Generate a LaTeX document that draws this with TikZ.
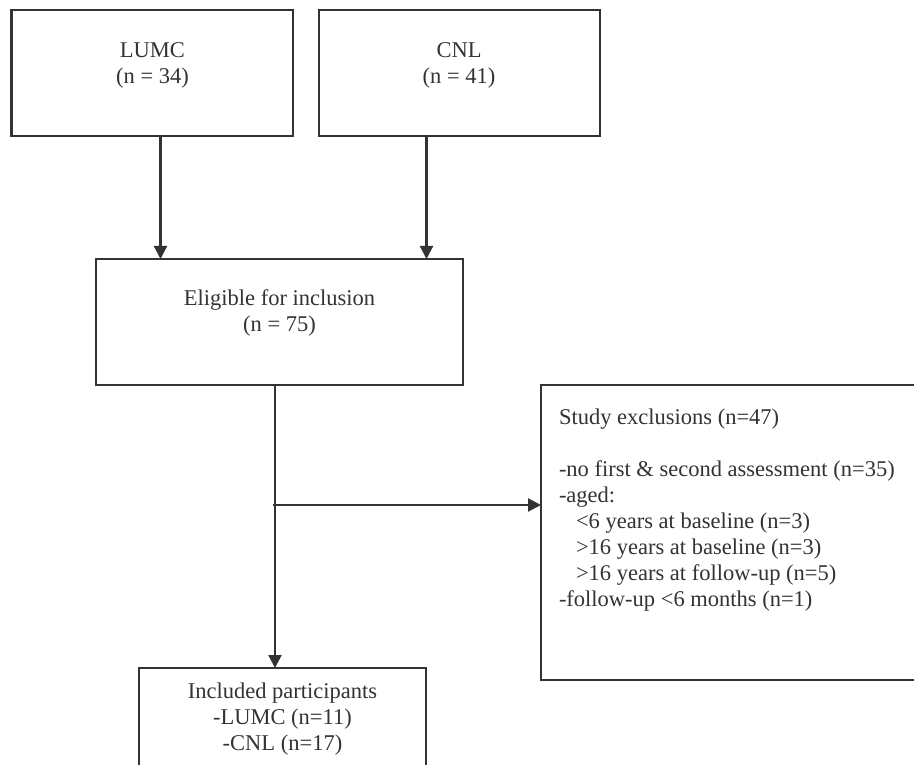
\documentclass[tikz,border=0pt]{standalone}
\usepackage{fontspec}
\setmainfont{Liberation Serif}
\usetikzlibrary{arrows.meta}
\definecolor{ink}{HTML}{333333}
\newcommand{\topstrut}{\rule{0pt}{18pt}}
\begin{document}
\begin{tikzpicture}[x=1pt,y=-1pt,
  boxnode/.style={draw=ink, line width=2.6pt, rectangle, inner sep=0pt, outer sep=0pt},
  txt/.style={text=ink, inner sep=0pt, outer sep=0pt, font=\fontsize{22.5}{26}\selectfont},
  arr/.style={draw=ink, line width=2.2pt, -{Triangle[length=13pt,width=13pt]}},
  ln/.style={draw=ink, line width=2.2pt}]
\useasboundingbox (0,0) rectangle (914,765);
\clip (0,0) rectangle (914,765);
\fill[white] (0,0) rectangle (914,765);

% boxes
\node[boxnode, minimum width=281.5pt, minimum height=126pt] (lumc) at (152.25,73) {};
\node[boxnode, minimum width=281pt, minimum height=126pt] (cnl) at (459.5,73) {};
\node[boxnode, minimum width=367pt, minimum height=126pt] (elig) at (279.5,322) {};
\node[boxnode, minimum width=399pt, minimum height=295pt] (excl) at (740.5,532.5) {};
\node[boxnode, minimum width=287pt, minimum height=132pt] (incl) at (282.5,734) {};

% texts
\node[txt, align=center, anchor=north] (lumctxt) at (152.5,39.5) {\topstrut LUMC\\(n = 34)};
\node[txt, align=center, anchor=north] (cnltxt) at (459,39.5) {\topstrut CNL\\(n = 41)};
\node[txt, align=center, anchor=north] (eligtxt) at (279.5,287.5) {\topstrut Eligible for inclusion\\(n = 75)};
\node[txt, align=center, anchor=north] (incltxt) at (282.5,680.5) {\topstrut Included participants\\-LUMC (n=11)\\-CNL (n=17)};
\node[txt, align=left, anchor=north west] (excltxt) at (559,406.5) {\topstrut Study exclusions (n=47)\\ \mbox{}\\
-no first \& second assessment (n=35)\\
-aged:\\
\hspace*{17pt}<6 years at baseline (n=3)\\
\hspace*{17pt}>16 years at baseline (n=3)\\
\hspace*{17pt}>16 years at follow-up (n=5)\\
-follow-up <6 months (n=1)};

% connector guide coordinates
\coordinate (xa) at (160.5,0);
\coordinate (xb) at (426.5,0);
\coordinate (xs) at (275,0);
\coordinate (yb) at (0,505);

% connectors
\draw[arr] (xa |- lumc.south) -- (xa |- elig.north);
\draw[arr] (xb |- cnl.south) -- (xb |- elig.north);
\draw[arr] (xs |- elig.south) -- (xs |- incl.north);
\draw[arr] ([xshift=-2pt]xs |- yb) -- (excl.west |- yb);
\end{tikzpicture}
\end{document}
